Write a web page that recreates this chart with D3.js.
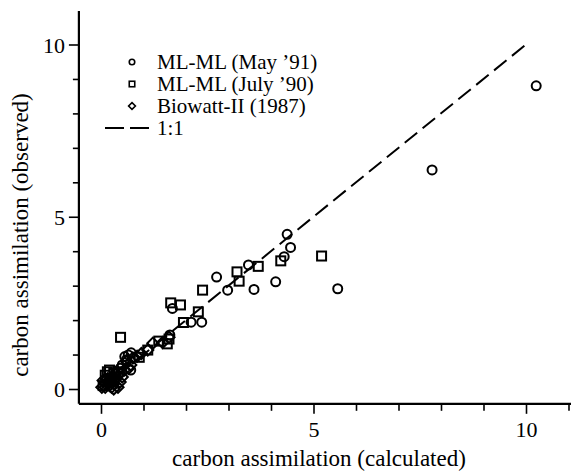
<!DOCTYPE html>
<html>
<head>
<meta charset="utf-8">
<script src="https://cdn.jsdelivr.net/npm/d3@7"></script>
<style>
  html, body { margin: 0; padding: 0; background: #fff; }
  svg text { font-family: "Liberation Serif", "Times New Roman", serif; fill: #000; }
</style>
</head>
<body>
<svg id="chart" width="571" height="471"></svg>
<script>
// ML-ML (May '91) -- circles, [calculated, observed]
var mayPoints = [
  [10.24, 8.8], [7.79, 6.36], [5.57, 2.91], [4.46, 4.11], [4.38, 4.49], [4.31, 3.84],
  [4.11, 3.11], [3.6, 2.89], [3.47, 3.6], [2.98, 2.87], [2.72, 3.25], [2.37, 1.94],
  [2.12, 1.94], [1.68, 2.34], [1.62, 1.57], [0.71, 1.05], [0.64, 0.99], [0.56, 0.94],
  [0.6, 0.85], [0.5, 0.7], [0.45, 0.6], [0.7, 0.55], [0.35, 0.35], [0.2, 0.3]
];
// ML-ML (July '90) -- squares
var julyPoints = [
  [5.19, 3.86], [4.23, 3.72], [3.7, 3.56], [3.2, 3.4], [3.25, 3.13], [2.39, 2.87],
  [2.29, 2.24], [1.64, 2.5], [1.87, 2.44], [1.94, 1.93], [1.56, 1.31], [1.36, 1.39],
  [1.1, 1.13], [0.9, 0.92], [0.46, 1.5], [1.6, 1.45], [0.4, 0.5], [0.3, 0.45],
  [0.15, 0.5], [0.1, 0.4], [0.2, 0.55], [0.25, 0.25], [0.05, 0.1]
];
// Biowatt-II (1987) -- diamonds
var biowattPoints = [
  [0.02, 0.05], [0.1, 0.15], [0.2, 0.1], [0.3, 0.0], [0.4, 0.05], [0.45, 0.2],
  [0.5, 0.35], [0.35, 0.3], [0.25, 0.35], [0.15, 0.3], [0.55, 0.55], [0.65, 0.6],
  [0.6, 0.8], [0.7, 0.7], [0.75, 0.9], [0.95, 1.03], [1.1, 1.13], [1.22, 1.33],
  [0.85, 0.95], [1.45, 1.35], [1.6, 1.5], [0.05, 0.25], [0.3, 0.15], [0.1, 0.05],
  [0.25, 0.05], [0.35, 0.45], [0.45, 0.45], [0.2, 0.2]
];
var oneToOne = [[0, 0], [10, 10]];

var xTicks = d3.range(0, 12);
var yTicks = d3.range(0, 11);
var majorTicks = [0, 5, 10];
var xExtent = [-0.52, 11.2];
var yExtent = [-0.43, 10.97];

var legendItems = [
  { label: "ML-ML (May \u201991)", shape: "circle" },
  { label: "ML-ML (July \u201990)", shape: "square" },
  { label: "Biowatt-II (1987)", shape: "diamond" },
  { label: "1:1", shape: "line" }
];

var svg = d3.select('#chart'),
    fontSize = 22;

var x = d3.scaleLinear().domain([0, 10]).range([101, 526]),
    y = d3.scaleLinear().domain([0, 10]).range([389, 44.5]);

var axisY0 = y(yExtent[0]),
    axisX0 = x(xExtent[0]);

// axis lines
svg.append('line')
  .attr('x1', axisX0).attr('x2', x(xExtent[1]))
  .attr('y1', axisY0).attr('y2', axisY0)
  .attr('stroke', '#000').attr('stroke-width', 2.2);
svg.append('line')
  .attr('x1', axisX0).attr('x2', axisX0)
  .attr('y1', axisY0).attr('y2', y(yExtent[1]))
  .attr('stroke', '#000').attr('stroke-width', 2.2);

// x axis ticks
var gx = svg.append('g')
  .attr('transform', 'translate(0,' + axisY0 + ')')
  .call(d3.axisBottom(x).tickValues(xTicks).tickSize(6)
    .tickFormat(function(d) { return majorTicks.indexOf(d) >= 0 ? d : ''; }));
gx.select('.domain').remove();
gx.selectAll('.tick line')
  .attr('stroke-width', 1.6)
  .attr('y2', function(d) { return majorTicks.indexOf(d) >= 0 ? 10 : 7; });
gx.selectAll('.tick text')
  .attr('y', 33).attr('dy', null)
  .style('font-size', fontSize + 'px')
  .style('font-family', '"Liberation Serif", serif');

// y axis ticks
var gy = svg.append('g')
  .attr('transform', 'translate(' + axisX0 + ',0)')
  .call(d3.axisLeft(y).tickValues(yTicks).tickSize(6)
    .tickFormat(function(d) { return majorTicks.indexOf(d) >= 0 ? d : ''; }));
gy.select('.domain').remove();
gy.selectAll('.tick line')
  .attr('stroke-width', 1.6)
  .attr('x2', function(d) { return majorTicks.indexOf(d) >= 0 ? -10 : -6; });
gy.selectAll('.tick text')
  .attr('x', -14).attr('dy', '0.35em')
  .style('font-size', fontSize + 'px')
  .style('font-family', '"Liberation Serif", serif');

// axis titles
svg.append('text')
  .attr('x', 319).attr('y', 466)
  .attr('text-anchor', 'middle')
  .style('font-size', '23px')
  .text('carbon assimilation (calculated)');
svg.append('text')
  .attr('transform', 'translate(28,235) rotate(-90)')
  .attr('text-anchor', 'middle')
  .style('font-size', '23px')
  .text('carbon assimilation (observed)');

// 1:1 line
svg.append('path')
  .datum(oneToOne)
  .attr('d', d3.line().x(function(d) { return x(d[0]); }).y(function(d) { return y(d[1]); }))
  .attr('fill', 'none').attr('stroke', '#000').attr('stroke-width', 2)
  .attr('stroke-dasharray', '16,7');

// markers
function drawShape(sel, shape, size) {
  if (shape === 'circle') {
    sel.append('circle').attr('r', size / 2);
  } else if (shape === 'square') {
    sel.append('rect')
      .attr('x', -size / 2).attr('y', -size / 2)
      .attr('width', size).attr('height', size);
  } else {
    var h = size * 0.62;
    sel.append('path').attr('d', 'M0,' + (-h) + 'L' + h + ',0L0,' + h + 'L' + (-h) + ',0Z');
  }
}

function drawSeries(data, shape, size) {
  svg.append('g')
    .attr('fill', 'none').attr('stroke', '#000').attr('stroke-width', 2)
    .selectAll('g')
    .data(data)
    .join('g')
      .attr('transform', function(d) { return 'translate(' + x(d[0]) + ',' + y(d[1]) + ')'; })
      .each(function() { drawShape(d3.select(this), shape, size); });
}

drawSeries(biowattPoints, 'diamond', 9);
drawSeries(julyPoints, 'square', 9);
drawSeries(mayPoints, 'circle', 9);

// legend
var legend = svg.append('g');
legendItems.forEach(function(item, i) {
  var rowY = 62 + i * 22;
  if (item.shape === 'line') {
    legend.append('line')
      .attr('x1', 105).attr('x2', 153)
      .attr('y1', rowY).attr('y2', rowY)
      .attr('stroke', '#000').attr('stroke-width', 2)
      .attr('stroke-dasharray', '19,6');
  } else {
    var g = legend.append('g')
      .attr('transform', 'translate(132,' + rowY + ')')
      .attr('fill', 'none').attr('stroke', '#000').attr('stroke-width', 1.6);
    drawShape(g, item.shape, 5.5);
  }
  legend.append('text')
    .attr('x', 157).attr('y', rowY + 7)
    .style('font-size', '21px')
    .text(item.label);
});
</script>
</body>
</html>
